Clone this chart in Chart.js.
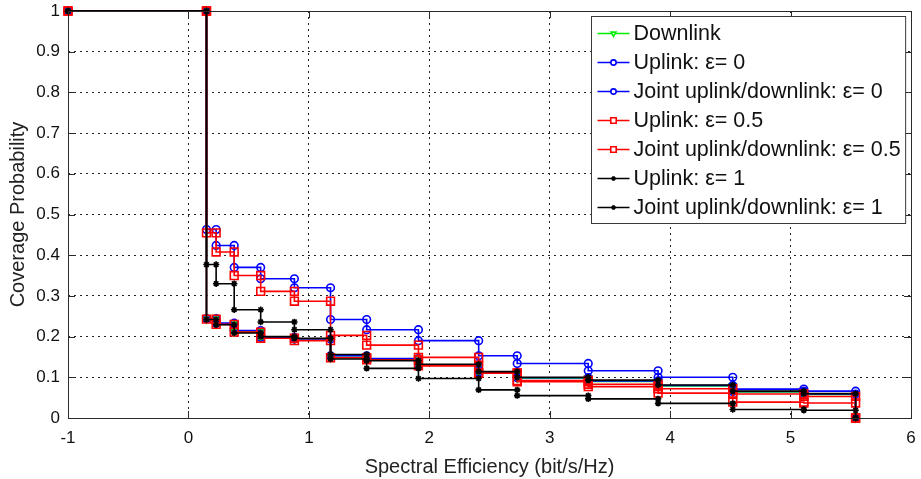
<!DOCTYPE html>
<html>
<head>
<meta charset="utf-8">
<script src="https://cdn.jsdelivr.net/npm/chart.js@4/dist/chart.umd.min.js"></script>
<style>
  html, body { margin: 0; padding: 0; background: #fff; }
  #wrap { width: 921px; height: 479px; }
</style>
</head>
<body>
<div id="wrap"><canvas id="myChart"></canvas></div>
<script>
// step edges (bit/s/Hz), each series holds one value per step, last one is the drop to 0
const stepX = [-1, 0.15, 0.23, 0.38, 0.60, 0.88, 1.18, 1.48, 1.91, 2.41, 2.73, 3.32, 3.90, 4.52, 5.11, 5.54];

const downlink  = [1, 0.243, 0.231, 0.212, 0.197, 0.193, 0.149, 0.145, 0.130, 0.112, 0.098, 0.090, 0.079, 0.064, 0.058, 0];
const uplinkE0  = [1, 0.463, 0.424, 0.370, 0.342, 0.320, 0.242, 0.217, 0.190, 0.153, 0.134, 0.116, 0.100, 0.071, 0.066, 0];
const jointE0   = [1, 0.244, 0.233, 0.215, 0.198, 0.194, 0.153, 0.146, 0.131, 0.113, 0.099, 0.091, 0.080, 0.065, 0.059, 0];
const uplinkE05 = [1, 0.455, 0.408, 0.350, 0.311, 0.287, 0.203, 0.179, 0.149, 0.110, 0.089, 0.077, 0.061, 0.039, 0.037, 0];
const jointE05  = [1, 0.243, 0.230, 0.211, 0.196, 0.190, 0.148, 0.143, 0.128, 0.111, 0.092, 0.083, 0.072, 0.059, 0.053, 0];
const uplinkE1  = [1, 0.377, 0.330, 0.266, 0.236, 0.217, 0.156, 0.122, 0.097, 0.069, 0.055, 0.047, 0.036, 0.021, 0.019, 0];
const jointE1   = [1, 0.242, 0.229, 0.209, 0.200, 0.196, 0.145, 0.141, 0.132, 0.114, 0.100, 0.093, 0.081, 0.066, 0.060, 0];

const seriesLabels = [
  'Downlink',
  'Uplink: \u03b5= 0',
  'Joint uplink/downlink: \u03b5= 0',
  'Uplink: \u03b5= 0.5',
  'Joint uplink/downlink: \u03b5= 0.5',
  'Uplink: \u03b5= 1',
  'Joint uplink/downlink: \u03b5= 1'
];
const seriesValues = [downlink, uplinkE0, jointE0, uplinkE05, jointE05, uplinkE1, jointE1];

const xTicks = [-1, 0, 1, 2, 3, 4, 5, 6];
const yTicks = [0, 0.1, 0.2, 0.3, 0.4, 0.5, 0.6, 0.7, 0.8, 0.9, 1];

const looks = [
  {color: '#00ee00', point: 'triangle', rot: 180, r: 4},
  {color: '#0000ff', point: 'circle', rot: 0, r: 3.8},
  {color: '#0000ff', point: 'circle', rot: 0, r: 3.8},
  {color: '#ff0000', point: 'rect', rot: 0, r: 5.5},
  {color: '#ff0000', point: 'rect', rot: 0, r: 5.5},
  {color: '#000000', point: 'star', rot: 0, r: 3.2},
  {color: '#000000', point: 'star', rot: 0, r: 3.2}
];

// both corners of every step get a marker
const toSteps = (vals) => {
  const pts = [];
  for (let i = 0; i < stepX.length - 1; i++) {
    pts.push({x: stepX[i], y: vals[i]});
    pts.push({x: stepX[i + 1], y: vals[i]});
  }
  pts.push({x: stepX[stepX.length - 1], y: vals[vals.length - 1]});
  return pts;
};

const datasets = seriesValues.map((vals, i) => ({
  label: seriesLabels[i],
  data: toSteps(vals),
  borderColor: looks[i].color,
  borderWidth: 1.6,
  pointStyle: looks[i].point,
  pointRotation: looks[i].rot,
  pointRadius: looks[i].r,
  pointBorderWidth: 1.6,
  pointBorderColor: looks[i].color,
  pointBackgroundColor: 'rgba(0,0,0,0)',
  fill: false,
  tension: 0,
  clip: false,
  order: seriesValues.length - i
}));

const FONT = '"Liberation Sans", Arial, sans-serif';

const frameAndLegend = {
  id: 'frameAndLegend',
  afterDatasetsDraw(chart) {
    const {ctx, chartArea: a, scales} = chart;
    ctx.save();
    // box + inside ticks, matlab style
    ctx.strokeStyle = '#2b2b2b';
    ctx.lineWidth = 1;
    ctx.strokeRect(a.left + 0.5, a.top + 0.5, a.right - a.left, a.bottom - a.top);
    ctx.beginPath();
    xTicks.forEach(t => {
      const px = Math.round(scales.x.getPixelForValue(t)) + 0.5;
      ctx.moveTo(px, a.bottom); ctx.lineTo(px, a.bottom - 7);
      ctx.moveTo(px, a.top); ctx.lineTo(px, a.top + 7);
    });
    yTicks.forEach(t => {
      const py = Math.round(scales.y.getPixelForValue(t)) + 0.5;
      ctx.moveTo(a.left, py); ctx.lineTo(a.left + 7, py);
      ctx.moveTo(a.right, py); ctx.lineTo(a.right - 7, py);
    });
    ctx.stroke();

    // legend box
    ctx.font = '21.5px ' + FONT;
    let maxW = 0;
    seriesLabels.forEach(l => { maxW = Math.max(maxW, ctx.measureText(l).width); });
    const rowH = 29;
    const boxW = 42 + maxW + 5;
    const boxH = seriesLabels.length * rowH + 4;
    const boxL = Math.round(a.right - 6 - boxW) + 0.5;
    const boxT = a.top + 5.5;
    ctx.fillStyle = '#fff';
    ctx.fillRect(boxL, boxT, boxW, boxH);
    ctx.strokeStyle = '#3a3a3a';
    ctx.strokeRect(boxL, boxT, boxW, boxH);
    ctx.textBaseline = 'middle';
    seriesLabels.forEach((l, i) => {
      const cy = boxT + 17 + i * rowH;
      ctx.strokeStyle = looks[i].color;
      ctx.lineWidth = 1.6;
      ctx.beginPath();
      ctx.moveTo(boxL + 6, cy); ctx.lineTo(boxL + 38, cy);
      ctx.stroke();
      ctx.fillStyle = '#fff';
      Chart.helpers.drawPoint(ctx, {
        pointStyle: looks[i].point,
        rotation: looks[i].rot,
        radius: looks[i].r * 0.7,
        borderWidth: 1.1
      }, boxL + 22, cy);
      ctx.fillStyle = '#111';
      ctx.fillText(l, boxL + 42, cy + 1);
    });
    ctx.restore();
  }
};

const ctx = document.getElementById('myChart').getContext('2d');

const myChart = new Chart(ctx, {
  type: 'line',
  data: { datasets },
  options: {
    responsive: true,
    maintainAspectRatio: false,
    animation: false,
    layout: { padding: { left: 0, right: 10, top: 11, bottom: 0 } },
    plugins: {
      legend: { display: false },
      tooltip: { enabled: false }
    },
    scales: {
      x: {
        type: 'linear',
        min: -1,
        max: 6,
        afterBuildTicks: (s) => { s.ticks = xTicks.map(v => ({value: v})); },
        afterFit: (s) => { s.height = 61; s.paddingLeft = 0; s.paddingRight = 0; },
        ticks: {
          color: '#111',
          font: { family: FONT, size: 17 },
          padding: 10,
          callback: v => String(v)
        },
        grid: { color: '#222', lineWidth: 1, drawTicks: false },
        border: { display: false, dash: [2, 4] },
        title: {
          display: true,
          text: 'Spectral Efficiency (bit/s/Hz)',
          color: '#222',
          font: { family: FONT, size: 20 },
          padding: { top: 0, bottom: 0 }
        }
      },
      y: {
        type: 'linear',
        min: 0,
        max: 1,
        afterBuildTicks: (s) => { s.ticks = yTicks.map(v => ({value: v})); },
        afterFit: (s) => { s.width = 68; s.paddingTop = 0; s.paddingBottom = 0; },
        ticks: {
          color: '#111',
          font: { family: FONT, size: 17 },
          padding: 8,
          callback: v => String(Math.round(v * 10) / 10)
        },
        grid: { color: '#222', lineWidth: 1, drawTicks: false },
        border: { display: false, dash: [2, 4] },
        title: {
          display: true,
          text: 'Coverage Probability',
          color: '#222',
          font: { family: FONT, size: 20 },
          padding: { top: 6, bottom: 0 }
        }
      }
    }
  },
  plugins: [frameAndLegend]
});
</script>
</body>
</html>
